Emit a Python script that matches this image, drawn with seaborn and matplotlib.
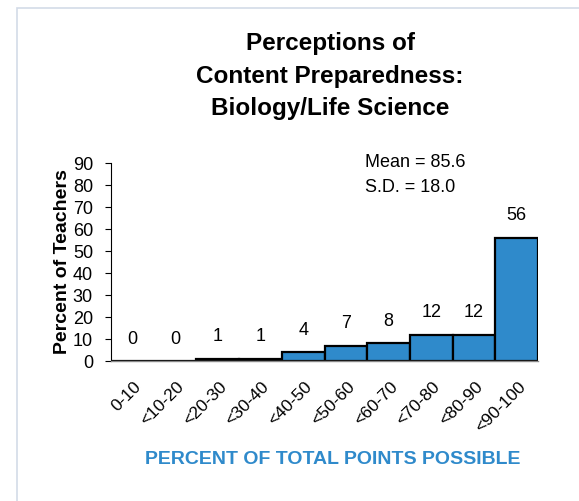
import matplotlib
matplotlib.use('Agg')
import matplotlib.pyplot as plt
from matplotlib.patches import Rectangle
import seaborn as sns
import numpy as np
import pandas as pd

# Chart data
categories = ['0-10', '<10-20', '<20-30', '<30-40', '<40-50',
              '<50-60', '<60-70', '<70-80', '<80-90', '<90-100']
percents = [0, 0, 1, 1, 4, 7, 8, 12, 12, 56]
y_ticks = [0, 10, 20, 30, 40, 50, 60, 70, 80, 90]
stats_text = 'Mean = 85.6\nS.D. = 18.0'

df = pd.DataFrame({'range': categories, 'percent': percents})

sns.set_style('white')
plt.rcParams['font.family'] = ['Liberation Sans', 'DejaVu Sans']
plt.rcParams['text.color'] = 'black'
plt.rcParams['axes.labelcolor'] = 'black'
plt.rcParams['xtick.color'] = 'black'
plt.rcParams['ytick.color'] = 'black'
blue = '#2F8ACB'

fig = plt.figure(figsize=(5.79, 5.01), dpi=100)
ax = fig.add_axes([111 / 579, 1 - 361 / 501, 427 / 579, 198 / 501])

sns.barplot(data=df, x='range', y='percent', color=blue, width=1.0,
            edgecolor='black', linewidth=1.6, saturation=1, ax=ax)

ax.set_xlim(-0.5, len(categories) - 0.5)
ax.set_ylim(0, 90)
ax.set_yticks(y_ticks)
ax.set_yticklabels([str(t) for t in y_ticks], fontsize=13)

# value labels above bars
for i, v in enumerate(percents):
    ax.text(i, v + 10, str(v), ha='center', va='center', fontsize=13)

# rotated tick labels, anchored at their right-middle point (nudged right a bit)
ax.set_xticks(np.arange(len(categories)) + 0.15)
ax.set_xticklabels(categories, rotation=45, ha='right', va='center',
                   rotation_mode='anchor', fontsize=12.5)

ax.tick_params(axis='y', direction='out', length=4, width=0.8, color='black', pad=9, left=True)
ax.tick_params(axis='x', length=0, pad=17)

for side in ['top', 'right']:
    ax.spines[side].set_visible(False)
ax.spines['left'].set_color('black')
ax.spines['left'].set_linewidth(0.8)
ax.spines['bottom'].set_color('#888888')
ax.spines['bottom'].set_linewidth(1.0)

ax.set_xlabel('')
ax.set_ylabel('Percent of Teachers', fontsize=14, fontweight='bold', labelpad=1)

ax.text(0.595, 0.94, stats_text, transform=ax.transAxes, ha='left', va='center',
        fontsize=13, linespacing=1.6)

fig.text(330 / 579, 1 - 76 / 501,
         'Perceptions of\nContent Preparedness:\nBiology/Life Science',
         ha='center', va='center', fontsize=17.5, fontweight='bold', linespacing=1.55)

fig.text(333 / 579, 1 - 460 / 501, 'PERCENT OF TOTAL POINTS POSSIBLE',
         ha='center', va='center', fontsize=14, fontweight='bold', color=blue)

# light frame around the chart
fig.patches.append(Rectangle((17 / 579, -0.1), 1.2, 1 - 8 / 501 + 0.1,
                             transform=fig.transFigure, fill=False,
                             edgecolor='#D3DBE8', linewidth=1.2))

fig.savefig('out.png', dpi=100)
